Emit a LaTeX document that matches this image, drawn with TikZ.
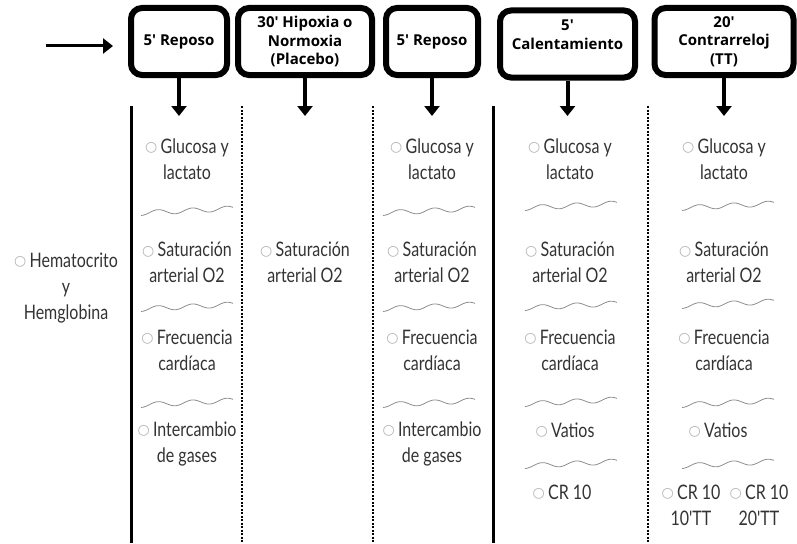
\documentclass[tikz,border=0pt]{standalone}
\usepackage{fontspec}
\setmainfont{Lato}
\newfontfamily\itemfont[FakeStretch=0.8]{Lato}
\newfontfamily\stagefont{Open Sans}
\newfontfamily\circfont{DejaVu Sans}
\usetikzlibrary{arrows.meta, positioning, calc}

\newcommand{\cir}{\raisebox{1.5pt}{\circfont\color{black!30}\fontsize{14}{14}\selectfont ○}\,}

\begin{document}
\begin{tikzpicture}[
    x=1pt, y=-1pt,
    stage/.style={draw=black, line width=6pt, rounded corners=11pt, minimum height=67pt, align=center, inner sep=2pt, font=\stagefont\bfseries\fontsize{15}{18.5}\selectfont},
    arrow/.style={-{Triangle[width=15pt, length=10pt]}, line width=4pt},
    item/.style={align=center, text=black!80, font=\itemfont\fontsize{20}{26}\selectfont},
    wave/.style={black!45, line width=0.8pt},
    solidsep/.style={line width=3pt},
    dotsep/.style={line width=1.8pt, dash pattern=on 2pt off 1.5pt}
]
    \useasboundingbox (0,0) rectangle (797,543);

    % Stages
    \node[stage, minimum width=96pt] (rep1) at (179,41.5) {5' Reposo};
    \node[stage, minimum width=134pt] (hip) at (305,41.5) {30' Hipoxia o\\Normoxia\\(Placebo)};
    \node[stage, minimum width=92pt] (rep2) at (432,41.5) {5' Reposo};
    \node[stage, minimum width=135pt] (cal) at (567.5,44) {5'\\Calentamiento\\\mbox{}};
    \node[stage, minimum width=139pt] (tt) at (724,41.5) {20'\\Contrarreloj\\(TT)};

    % Entry arrow
    \coordinate (start) at (46,46);
    \coordinate (entry) at (113,46);
    \draw[arrow, line width=3pt] (start) -- (entry);

    % Drop arrows
    \foreach \s in {rep1,hip,rep2,cal,tt}{
        \coordinate (\s-tip) at (\s.south |- 0,116);
        \draw[arrow] (\s.south) -- (\s-tip);
    }

    % Column separators
    \foreach \sx/\st in {131/solidsep, 242/dotsep, 373/dotsep, 493/solidsep, 648/dotsep}
        \draw[\st] (\sx,106) -- (\sx,543);

    % Left: baseline measure
    \node[item] (hem) at (66,288) {\cir Hematocrito\\y\\Hemglobina};

    % Column 1: 5' Reposo
    \node[item] (glu1) at (187,159) {\cir Glucosa y\\lactato};
    \node[item] (sat1) at (187,262.5) {\cir Saturación\\arterial O2};
    \node[item] (fc1) at (187,350) {\cir Frecuencia\\cardíaca};
    \node[item] (gas1) at (187,443.5) {\cir Intercambio\\de gases};

    % Column 2: Hipoxia / Normoxia
    \node[item] (sat2) at (305,262.5) {\cir Saturación\\arterial O2};

    % Column 3: 5' Reposo
    \node[item] (glu3) at (432,159) {\cir Glucosa y\\lactato};
    \node[item] (sat3) at (432,262.5) {\cir Saturación\\arterial O2};
    \node[item] (fc3) at (432,350) {\cir Frecuencia\\cardíaca};
    \node[item] (gas3) at (432,443.5) {\cir Intercambio\\de gases};

    % Column 4: Calentamiento
    \node[item] (glu4) at (570,159) {\cir Glucosa y\\lactato};
    \node[item] (sat4) at (570,262.5) {\cir Saturación\\arterial O2};
    \node[item] (fc4) at (570,350) {\cir Frecuencia\\cardíaca};
    \node[item] (vat4) at (565,430) {\cir Vatios};
    \node[item] (cr4) at (562,492) {\cir CR 10};

    % Column 5: Contrarreloj
    \node[item] (glu5) at (724,159) {\cir Glucosa y\\lactato};
    \node[item] (sat5) at (724,262.5) {\cir Saturación\\arterial O2};
    \node[item] (fc5) at (724,350) {\cir Frecuencia\\cardíaca};
    \node[item] (vat5) at (718,430) {\cir Vatios};
    \node[item] (cra) at (691,505) {\cir CR 10\\10'TT};
    \node[item] (crb) at (759,505) {\cir CR 10\\20'TT};

    % Wavy dividers
    \foreach \wx/\wy in {141/213, 141/309, 141/405, 383/213, 383/309, 383/405,
                         525/208, 525/308, 525/404, 525/466,
                         682/208, 682/306, 682/405, 682/466}
        \draw[wave, shift={(\wx,\wy)}] plot[domain=0:92, samples=50, smooth] (\x, {2.5*cos(\x*10.5)-\x*0.05});

\end{tikzpicture}
\end{document}
